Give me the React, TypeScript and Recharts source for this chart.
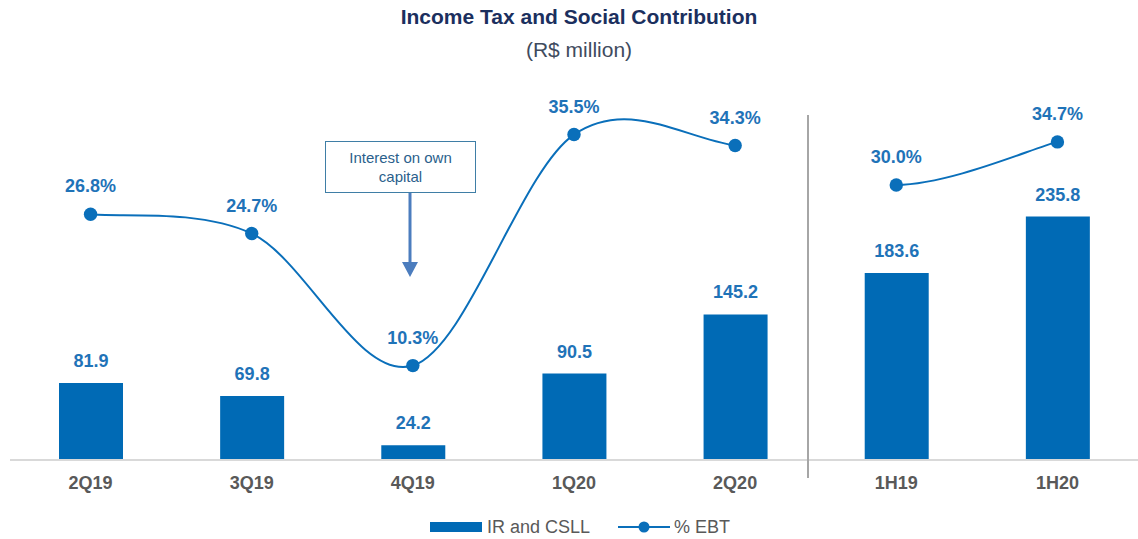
import React from 'react';
import { ComposedChart, Bar, Line, XAxis, YAxis, LabelList, Legend } from 'recharts';

const categories = ['2Q19', '3Q19', '4Q19', '1Q20', '2Q20', '1H19', '1H20'];
const irCsll = [81.9, 69.8, 24.2, 90.5, 145.2, 183.6, 235.8];
const ebtPct = [26.8, 24.7, 10.3, 35.5, 34.3, 30.0, 34.7];

const data = categories.map((name, i) => ({ name, ir: irCsll[i], ebt: ebtPct[i] }));

const BAR_COLOR = '#006AB5';
const LINE_COLOR = '#0A6FBA';
const LABEL_COLOR = '#1F73B8';
const FONT = '"Liberation Sans", Arial, sans-serif';

// smoothed line like Excel (Catmull-Rom), with a gap between 2Q20 and 1H19
const smoothWithGap = (gapAfter: number) => (context: any) => {
  let pts: [number, number][] = [];
  return {
    areaStart() {},
    areaEnd() {},
    lineStart() {
      pts = [];
    },
    point(x: number, y: number) {
      pts.push([+x, +y]);
    },
    lineEnd() {
      const n = pts.length;
      if (!n) return;
      context.moveTo(pts[0][0], pts[0][1]);
      for (let i = 0; i < n - 1; i++) {
        const p0 = pts[Math.max(i - 1, 0)];
        const p1 = pts[i];
        const p2 = pts[i + 1];
        const p3 = pts[Math.min(i + 2, n - 1)];
        if (i === gapAfter) {
          context.moveTo(p2[0], p2[1]);
          continue;
        }
        context.bezierCurveTo(
          p1[0] + (p2[0] - p0[0]) / 6,
          p1[1] + (p2[1] - p0[1]) / 6,
          p2[0] - (p3[0] - p1[0]) / 6,
          p2[1] - (p3[1] - p1[1]) / 6,
          p2[0],
          p2[1]
        );
      }
    },
  };
};

const LegendContent = ({ payload }: any) => {
  // bars first, then the line
  const items = [...(payload || [])].sort((a: any, b: any) => (a.type === 'line' ? 1 : 0) - (b.type === 'line' ? 1 : 0));
  return (
    <div
      style={{
        display: 'flex',
        justifyContent: 'center',
        alignItems: 'center',
        fontFamily: FONT,
        fontSize: 18,
        color: '#595959',
        lineHeight: '24px',
      }}
    >
      {items.map((entry: any, i: number) => (
        <div key={i} style={{ display: 'flex', alignItems: 'center', marginLeft: i ? 28 : 0 }}>
          {entry.type === 'line' ? (
            <svg width={52} height={14} style={{ marginRight: 4 }}>
              <line x1={0} y1={7} x2={52} y2={7} stroke={LINE_COLOR} strokeWidth={2} />
              <circle cx={26} cy={7} r={5.5} fill={LINE_COLOR} />
            </svg>
          ) : (
            <svg width={52} height={10} style={{ marginRight: 5 }}>
              <rect x={0} y={0} width={52} height={10} fill={BAR_COLOR} />
            </svg>
          )}
          <span>{entry.value}</span>
        </div>
      ))}
    </div>
  );
};

export default function App() {
  return (
    <div style={{ position: 'absolute', top: 0, left: 0, width: 1138, height: 539, background: '#fff', fontFamily: FONT }}>
      <div
        style={{
          position: 'absolute', top: 5, left: 0, width: 1158, textAlign: 'center',
          fontSize: 21, fontWeight: 'bold', color: '#1B2F5E', lineHeight: '24px',
        }}
      >
        Income Tax and Social Contribution
      </div>
      <div
        style={{
          position: 'absolute', top: 38, left: 0, width: 1158, textAlign: 'center',
          fontSize: 21, color: '#404B5E', lineHeight: '24px',
        }}
      >
        (R$ million)
      </div>

      <ComposedChart
        width={1138}
        height={539}
        data={data}
        margin={{ top: 100, right: 0, left: 10, bottom: 49 }}
        style={{ fontFamily: FONT }}
      >
        <XAxis
          dataKey="name"
          height={30}
          tickLine={false}
          tickSize={6}
          tickMargin={10}
          axisLine={{ stroke: '#D9D9D9', strokeWidth: 2 }}
          tick={{ fill: '#595959', fontSize: 18, fontWeight: 'bold' }}
          interval={0}
        />
        <YAxis yAxisId="bar" hide type="number" domain={[10.6, 343.6]} allowDataOverflow />
        <YAxis yAxisId="pct" hide type="number" domain={[0, 39.27]} allowDataOverflow />
        <Legend
          layout="horizontal"
          verticalAlign="middle"
          align="center"
          wrapperStyle={{ top: 515, left: 11, width: 1138, height: 24 }}
          content={<LegendContent />}
        />
        <Bar yAxisId="bar" dataKey="ir" name="IR and CSLL" fill={BAR_COLOR} barSize={64} legendType="rect" isAnimationActive={false}>
          <LabelList
            dataKey="ir"
            position="top"
            offset={16}
            formatter={(v: any) => Number(v).toFixed(1)}
            style={{ fill: LABEL_COLOR, fontSize: 18, fontWeight: 'bold' }}
          />
        </Bar>
        <Line
          yAxisId="pct"
          dataKey="ebt"
          name="% EBT"
          type={smoothWithGap(4) as any}
          stroke={LINE_COLOR}
          strokeWidth={2}
          dot={{ r: 6.7, fill: LINE_COLOR, stroke: LINE_COLOR, strokeWidth: 0 }}
          activeDot={false}
          legendType="line"
          isAnimationActive={false}
        >
          <LabelList
            dataKey="ebt"
            position="top"
            offset={22}
            formatter={(v: any) => `${Number(v).toFixed(1)}%`}
            style={{ fill: LABEL_COLOR, fontSize: 18, fontWeight: 'bold' }}
          />
        </Line>
      </ComposedChart>

      {/* separator between quarters and half-years */}
      <div style={{ position: 'absolute', left: 807, top: 115, width: 1.5, height: 363, background: '#A6A6A6' }} />

      {/* annotation */}
      <div
        style={{
          position: 'absolute', left: 325, top: 141, width: 151, height: 52, boxSizing: 'border-box',
          border: '1.5px solid #3F7EA6', background: '#fff', display: 'flex', flexDirection: 'column',
          justifyContent: 'center', alignItems: 'center', fontSize: 15, lineHeight: '19px', color: '#2B5F8C',
        }}
      >
        <span>Interest on own</span>
        <span>capital</span>
      </div>
      <svg style={{ position: 'absolute', left: 395, top: 193 }} width={30} height={86}>
        <line x1={15} y1={0} x2={15} y2={70} stroke="#4C7DBE" strokeWidth={3} />
        <polygon points="7,69 23,69 15,84" fill="#4C7DBE" />
      </svg>
    </div>
  );
}
